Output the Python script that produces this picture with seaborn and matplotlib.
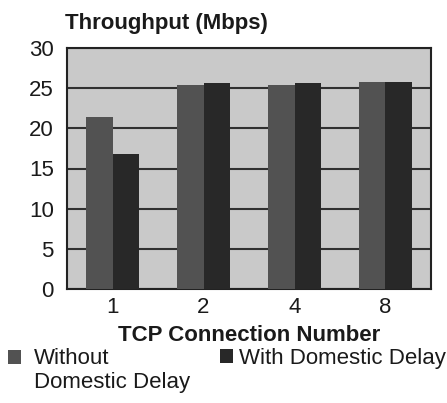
import pandas as pd
import matplotlib.pyplot as plt
import seaborn as sns

# Dados
CONEXOES = ['1', '2', '4', '8']
SEM_ATRASO = [21.4, 25.4, 25.4, 25.8]
COM_ATRASO = [16.8, 25.6, 25.6, 25.8]
SERIES = ['Without\nDomestic Delay', 'With Domestic Delay']
Y_TICKS = [0, 5, 10, 15, 20, 25, 30]

CORES = ['#525252', '#282828']
FUNDO = '#c9c9c9'
TAM = 16

df = pd.DataFrame({
    'Conexao': CONEXOES * 2,
    'Throughput': SEM_ATRASO + COM_ATRASO,
    'Serie': [SERIES[0]] * len(CONEXOES) + [SERIES[1]] * len(CONEXOES),
})

sns.set_style('white')
plt.rcParams['font.family'] = ['Liberation Sans', 'DejaVu Sans']

fig = plt.figure(figsize=(4.47, 4.03), dpi=100)
ax = fig.add_axes([67 / 447, 1 - 289 / 403, 364 / 447, 241 / 403])

sns.barplot(
    data=df, x='Conexao', y='Throughput', hue='Serie',
    order=CONEXOES, hue_order=SERIES, palette=CORES,
    width=0.58, saturation=1, ax=ax, legend=True, zorder=3,
    linewidth=0, edgecolor='none',
)

ax.set_facecolor(FUNDO)
ax.set_ylim(0, 30)
ax.set_xlim(-0.5, len(CONEXOES) - 0.5)
ax.set_yticks(Y_TICKS)
ax.tick_params(axis='y', length=4.5, width=1.2, color='#222', labelsize=TAM, pad=5,
               labelcolor='#1a1a1a')
ax.grid(axis='y', color='#303030', linewidth=1.5, zorder=1)
ax.set_axisbelow(True)

# ticks do eixo x nas fronteiras das categorias
ax.set_xticks([i - 0.5 for i in range(len(CONEXOES) + 1)], minor=True)
ax.tick_params(axis='x', which='minor', length=4.5, width=1.2, color='#222', direction='out')
ax.tick_params(axis='x', which='major', length=0, labelsize=TAM, pad=6, labelcolor='#1a1a1a')

for s in ax.spines.values():
    s.set_color('#222')
    s.set_linewidth(1.5)

ax.set_ylabel('')
ax.set_xlabel('TCP Connection Number', fontsize=TAM, fontweight='bold', labelpad=5,
              color='#1a1a1a')
fig.text(65 / 447, 1 - 24 / 403, 'Throughput (Mbps)', fontsize=TAM, fontweight='bold',
         ha='left', va='center', color='#1a1a1a')

# legenda em duas partes, como no original
handles, labels = ax.get_legend_handles_labels()
ax.get_legend().remove()
estilo = dict(loc='upper left', frameon=False, fontsize=TAM, handlelength=0.6,
              handleheight=0.6, borderaxespad=0, borderpad=0, labelcolor='#1a1a1a')
leg1 = fig.legend(handles[:1], labels[:1], bbox_to_anchor=(8 / 447, 1 - 348 / 403),
                  handletextpad=0.55, **estilo)
leg2 = fig.legend(handles[1:], labels[1:], bbox_to_anchor=(220 / 447, 1 - 348 / 403),
                  handletextpad=0.25, **estilo)
# quadrado da primeira entrada alinhado com a primeira linha
h = leg1.legend_handles[0]
h.set_y(h.get_y() + 0.6 * TAM)

plt.savefig('out.png', dpi=100)
